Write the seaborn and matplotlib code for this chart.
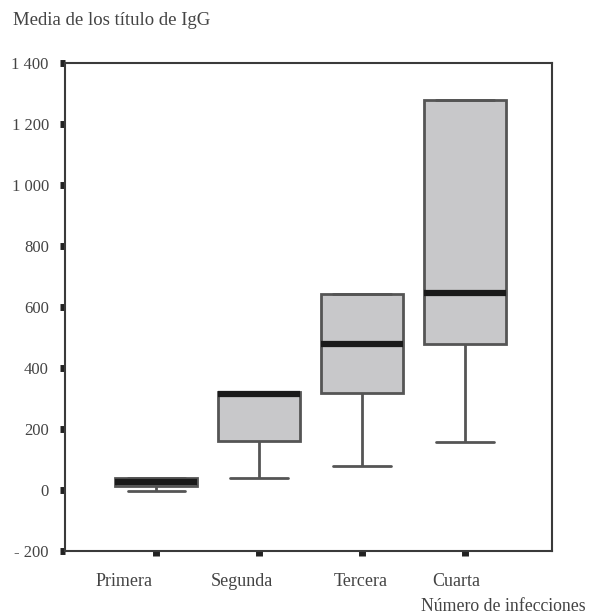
import numpy as np
import pandas as pd
import seaborn as sns
from matplotlib import pyplot as plt
from matplotlib.transforms import ScaledTranslation

# resumen de cinco números por grupo (mín, Q1, mediana, Q3, máx)
grupos = ["Primera", "Segunda", "Tercera", "Cuarta"]
minimos = [-3, 39, 79, 157]
q1 = [13, 161, 318, 479]
medianas = [26, 315, 479, 646]
q3 = [39, 322, 643, 1279]
maximos = [39, 322, 643, 1279]

yticks = [-200, 0, 200, 400, 600, 800, 1000, 1200, 1400]
ytick_labels = ["- 200", "0", "200", "400", "600", "800", "1 000", "1 200", "1 400"]

filas = []
for g, a, b, c, d, e in zip(grupos, minimos, q1, medianas, q3, maximos):
    for v in (a, b, c, d, e):
        filas.append({"grupo": g, "valor": v})
df = pd.DataFrame(filas)

sns.set_style("white")
plt.rcParams["font.family"] = ["Liberation Serif", "DejaVu Serif"]

gris = "#555555"
fig = plt.figure(figsize=(5.89, 6.14), dpi=100)
ax = fig.add_axes([0.110, 0.1026, 0.827, 0.7948])

sns.boxplot(
    data=df, x="grupo", y="valor", order=grupos, ax=ax,
    whis=np.inf, width=0.8, color="#c8c8ca", linecolor=gris, linewidth=2,
    medianprops={"color": "#1a1a1a", "linewidth": 4.5},
    showfliers=False,
)

# ancho de los topes de los bigotes
for cont in ax.containers:
    for cap in getattr(cont, "caps", []):
        x = cap.get_xdata()
        m = np.mean(x)
        cap.set_xdata([m - 0.28, m + 0.28])

ax.set_xlim(-0.89, 3.845)
ax.set_ylim(-200, 1400)
ax.set_yticks(yticks)
ax.set_yticklabels(ytick_labels)
ax.set_xlabel("")
ax.set_ylabel("")

for s in ax.spines.values():
    s.set_color("#3a3a3a")
    s.set_linewidth(1.5)

ax.tick_params(axis="both", which="major", direction="out", length=3.5,
               width=5, color="#222222", labelcolor="#444444",
               left=True, bottom=True)
ax.tick_params(axis="y", pad=8, labelsize=12)
ax.tick_params(axis="x", pad=12, labelsize=13)

# las etiquetas del eje x del original están algo desplazadas a la izquierda
for lab, dx in zip(ax.get_xticklabels(), [-32, -17, -1, -9]):
    lab.set_transform(lab.get_transform() + ScaledTranslation(dx / 100, 0, fig.dpi_scale_trans))

fig.text(0.022, 0.966, "Media de los título de IgG", fontsize=13.5,
         color="#444444", ha="left", va="center")
fig.text(0.995, 0.013, "Número de infecciones", fontsize=12.8,
         color="#444444", ha="right", va="center")

fig.savefig("out.png", dpi=100, facecolor="white")
